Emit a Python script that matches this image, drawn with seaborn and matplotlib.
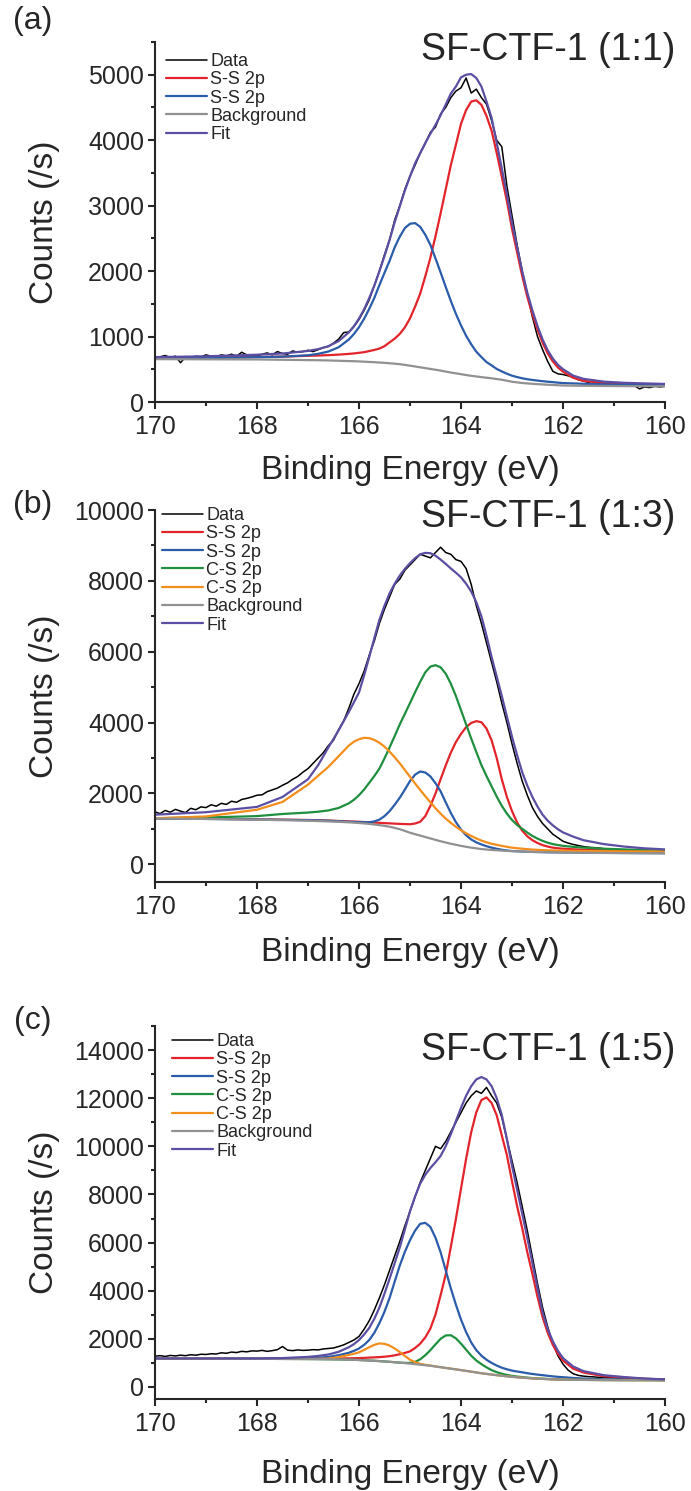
import numpy as np
import matplotlib
matplotlib.use("Agg")
import matplotlib.pyplot as plt
import seaborn as sns
from matplotlib import font_manager as fm
from matplotlib.ticker import MultipleLocator, StrMethodFormatter

# ---------------- data ----------------
# binding-energy grid used for the fitted components (eV)
XC = [170.0, 169.0, 168.0, 167.5, 167.0, 166.8, 166.6, 166.4,
      166.2, 166.1, 166.0, 165.9, 165.8, 165.7, 165.6, 165.5, 165.4, 165.3,
      165.2, 165.1, 165.0, 164.9, 164.8, 164.7, 164.6, 164.5, 164.4, 164.3,
      164.2, 164.1, 164.0, 163.9, 163.8, 163.7, 163.6, 163.5, 163.4, 163.3,
      163.2, 163.1, 163.0, 162.9, 162.8, 162.7, 162.6, 162.5, 162.4, 162.3,
      162.2, 162.1, 162.0, 161.8, 161.6, 161.2, 160.8, 160.4, 160.0]

# ---- panel (a) SF-CTF-1 (1:1)
A_SS1 = [673, 678, 688, 693, 706, 710, 716, 724,
         735, 742, 752, 761, 778, 795, 816, 853, 911, 968,
         1041, 1141, 1278, 1457, 1656, 1921, 2205, 2533, 2881, 3249,
         3616, 3930, 4250, 4460, 4590, 4610, 4540, 4370, 4144, 3806,
         3440, 3070, 2647, 2285, 1926, 1606, 1340, 1106, 905, 744,
         621, 528, 464, 369, 324, 287, 273, 266, 261]
A_SS2 = [668, 672, 685, 693, 714, 736, 771, 836,
         954, 1039, 1143, 1271, 1422, 1589, 1786, 1974, 2158, 2363,
         2527, 2658, 2723, 2733, 2676, 2555, 2399, 2194, 1980, 1759,
         1545, 1347, 1170, 1012, 882, 769, 687, 610, 559, 505,
         467, 432, 402, 381, 362, 348, 337, 327, 318, 310,
         303, 296, 289, 284, 278, 269, 263, 259, 255]
A_BG = [655, 652, 650, 645, 640, 638, 635, 630,
        625, 623, 620, 616, 612, 608, 603, 598, 592, 585,
        578, 567, 555, 543, 530, 518, 505, 493, 480, 465,
        450, 438, 425, 412, 400, 390, 380, 371, 362, 351,
        340, 325, 310, 300, 290, 284, 278, 273, 268, 264,
        260, 256, 252, 250, 248, 245, 243, 241, 240]
A_FIT = [686, 698, 723, 741, 780, 808, 852, 930,
         1064, 1158, 1275, 1416, 1588, 1776, 1999, 2229, 2477, 2746,
         2990, 3232, 3446, 3647, 3802, 3958, 4099, 4234, 4381, 4543,
         4711, 4820, 4960, 5000, 5010, 4950, 4820, 4590, 4341, 3960,
         3567, 3177, 2739, 2366, 1998, 1670, 1399, 1160, 955, 790,
         664, 568, 501, 403, 354, 311, 293, 284, 276]

# ---- panel (b) SF-CTF-1 (1:3)
B_SS1 = [1290, 1285, 1270, 1260, 1250, 1243, 1235, 1222,
         1210, 1205, 1200, 1192, 1185, 1177, 1170, 1162, 1155, 1147,
         1140, 1135, 1130, 1150, 1200, 1360, 1650, 2000, 2400, 2790,
         3150, 3450, 3680, 3870, 3990, 4040, 4010, 3830, 3500, 3000,
         2400, 1900, 1500, 1180, 950, 790, 680, 600, 540, 500,
         470, 452, 440, 423, 410, 395, 385, 380, 375]
B_SS2 = [1290, 1280, 1265, 1255, 1245, 1238, 1230, 1215,
         1200, 1195, 1190, 1185, 1185, 1210, 1260, 1360, 1500, 1680,
         1880, 2110, 2350, 2530, 2620, 2590, 2480, 2290, 2060, 1750,
         1450, 1190, 980, 820, 700, 620, 560, 510, 470, 438,
         410, 390, 375, 367, 360, 355, 350, 346, 343, 340,
         338, 336, 334, 331, 328, 322, 318, 315, 312]
B_CS1 = [1300, 1320, 1360, 1420, 1460, 1485, 1520, 1590,
         1720, 1820, 1950, 2110, 2300, 2490, 2700, 2990, 3300, 3620,
         3950, 4250, 4550, 4860, 5150, 5420, 5580, 5620, 5560, 5380,
         5100, 4750, 4350, 3950, 3550, 3170, 2800, 2490, 2200, 1910,
         1650, 1430, 1250, 1110, 1000, 895, 800, 725, 660, 610,
         570, 543, 520, 492, 470, 440, 420, 400, 380]
B_CS2 = [1300, 1350, 1540, 1760, 2250, 2500, 2750, 3050,
         3350, 3460, 3530, 3570, 3560, 3510, 3430, 3320, 3180, 3020,
         2850, 2660, 2470, 2280, 2100, 1920, 1750, 1580, 1430, 1290,
         1170, 1060, 960, 875, 800, 730, 670, 620, 580, 548,
         520, 493, 470, 453, 440, 427, 415, 407, 400, 395,
         390, 387, 385, 380, 375, 370, 365, 362, 360]
B_BG = [1290, 1280, 1260, 1245, 1230, 1220, 1210, 1198,
        1185, 1175, 1165, 1153, 1140, 1123, 1105, 1085, 1060, 1027,
        990, 942, 890, 850, 810, 770, 730, 690, 650, 615,
        580, 550, 520, 494, 470, 450, 430, 417, 405, 395,
        385, 377, 370, 365, 360, 355, 350, 346, 343, 340,
        337, 334, 332, 329, 326, 320, 316, 313, 310]
B_FIT = [1400, 1470, 1620, 1900, 2400, 2800, 3300, 3780,
         4300, 4570, 4850, 5330, 5850, 6380, 6900, 7300, 7650, 7920,
         8150, 8340, 8500, 8640, 8750, 8790, 8780, 8710, 8600, 8480,
         8350, 8230, 8100, 7920, 7700, 7400, 7000, 6450, 5850, 5300,
         4750, 4170, 3600, 3080, 2600, 2220, 1900, 1630, 1400, 1230,
         1100, 990, 900, 780, 680, 570, 500, 450, 420]

# ---- panel (c) SF-CTF-1 (1:5)
C_SS1 = [1190, 1182, 1176, 1175, 1175, 1177, 1180, 1185,
         1190, 1195, 1200, 1210, 1220, 1230, 1240, 1258, 1280, 1315,
         1360, 1415, 1480, 1620, 1800, 2060, 2430, 3010, 3810, 4674,
         5815, 6980, 8240, 9480, 10585, 11414, 11922, 12032, 11798, 11290,
         10450, 9634, 8550, 7514, 6600, 5600, 4700, 3750, 2900, 2250,
         1750, 1380, 1100, 760, 600, 450, 390, 340, 310]
C_SS2 = [1190, 1183, 1178, 1180, 1190, 1215, 1250, 1320,
         1420, 1500, 1600, 1750, 1950, 2250, 2650, 3130, 3700, 4380,
         5050, 5620, 6100, 6500, 6780, 6820, 6650, 6200, 5600, 4850,
         4100, 3420, 2800, 2280, 1850, 1530, 1300, 1130, 1000, 890,
         800, 735, 680, 642, 610, 573, 540, 513, 490, 464,
         440, 422, 405, 375, 350, 320, 305, 295, 285]
C_CS1 = [1190, 1180, 1170, 1165, 1160, 1156, 1152, 1144,
         1135, 1128, 1120, 1110, 1100, 1088, 1075, 1060, 1045, 1028,
         1012, 1000, 1000, 1040, 1150, 1320, 1530, 1770, 2000, 2140,
         2150, 2020, 1800, 1550, 1300, 1100, 950, 815, 700, 615,
         550, 500, 460, 433, 410, 388, 370, 356, 345, 333,
         322, 314, 308, 300, 295, 288, 285, 282, 280]
C_CS2 = [1190, 1180, 1170, 1166, 1165, 1168, 1180, 1240,
         1330, 1380, 1440, 1540, 1650, 1750, 1810, 1790, 1720, 1600,
         1450, 1290, 1130, 1030, 960, 920, 890, 855, 822, 792,
         762, 732, 702, 669, 637, 604, 572, 544, 517, 492,
         467, 444, 422, 404, 387, 372, 357, 346, 336, 326,
         316, 309, 303, 298, 293, 288, 285, 282, 280]
C_BG = [1190, 1180, 1170, 1165, 1160, 1156, 1152, 1144,
        1135, 1128, 1120, 1110, 1100, 1088, 1075, 1060, 1045, 1028,
        1010, 990, 970, 948, 925, 903, 880, 850, 820, 790,
        760, 730, 700, 667, 635, 602, 570, 542, 515, 490,
        465, 442, 420, 402, 385, 370, 355, 345, 335, 325,
        315, 308, 302, 297, 292, 287, 284, 282, 280]
C_FIT = [1185, 1185, 1185, 1200, 1250, 1290, 1350, 1460,
         1650, 1780, 1950, 2180, 2450, 2830, 3300, 3880, 4500, 5150,
         5800, 6550, 7300, 7920, 8450, 8820, 9100, 9340, 9600, 10000,
         10500, 11050, 11600, 12100, 12500, 12780, 12880, 12780, 12500, 12000,
         11300, 10300, 9200, 8200, 7200, 6200, 5150, 4100, 3100, 2400,
         1900, 1500, 1200, 850, 660, 490, 410, 350, 315]

# measured spectra, 170.0 -> 160.0 eV in 0.1 eV steps
DATA_A = [660, 690, 710, 680, 700, 600, 690, 670, 700, 690,
          720, 700, 690, 720, 705, 730, 700, 760, 720, 710,
          700, 730, 750, 720, 770, 740, 730, 780, 760, 770,
          790, 770, 800, 830, 850, 900, 960, 1060, 1070, 1150,
          1260, 1400, 1560, 1780, 2000, 2250, 2480, 2780, 3000, 3250,
          3450, 3620, 3800, 3950, 4120, 4200, 4400, 4500, 4650, 4750,
          4800, 4950, 4720, 4780, 4650, 4550, 4300, 4000, 3900, 3300,
          2850, 2400, 2000, 1650, 1300, 1000, 800, 620, 470, 430,
          420, 400, 380, 340, 320, 300, 330, 280, 270, 260,
          270, 250, 260, 240, 250, 200, 230, 220, 240, 230,
          240]
DATA_B = [1480, 1430, 1520, 1470, 1550, 1500, 1460, 1580, 1540, 1620,
          1600, 1680, 1640, 1720, 1690, 1780, 1750, 1830, 1860, 1900,
          1950, 1960, 2050, 2100, 2150, 2230, 2300, 2400, 2480, 2600,
          2700, 2850, 3000, 3150, 3350, 3500, 3800, 4050, 4400, 4800,
          5100, 5450, 5900, 6300, 6800, 7200, 7550, 7900, 8050, 8300,
          8450, 8600, 8750, 8700, 8650, 8800, 8950, 8800, 8750, 8600,
          8550, 8350, 7900, 7300, 6800, 6250, 5700, 5150, 4550, 4000,
          3400, 2850, 2350, 1950, 1600, 1350, 1150, 1000, 850, 750,
          650, 600, 560, 530, 500, 480, 470, 460, 440, 430,
          420, 410, 400, 390, 395, 380, 380, 370, 375, 360,
          360]
DATA_C = [1280, 1300, 1270, 1310, 1290, 1320, 1300, 1340, 1320, 1360,
          1350, 1380, 1370, 1420, 1400, 1450, 1430, 1480, 1460, 1500,
          1490, 1520, 1480, 1510, 1550, 1680, 1530, 1510, 1540, 1520,
          1530, 1550, 1540, 1580, 1600, 1620, 1680, 1750, 1850, 1950,
          2100, 2400, 2750, 3200, 3700, 4250, 4850, 5450, 6050, 6700,
          7300, 7900, 8500, 9000, 9500, 10000, 9900, 10200, 10600, 11000,
          11400, 11800, 12100, 12300, 12200, 12450, 12100, 11800, 11200, 10300,
          9400, 8500, 7500, 6500, 5400, 4300, 3300, 2500, 1800, 1300,
          950, 700, 550, 480, 450, 430, 420, 400, 410, 390,
          380, 370, 380, 360, 350, 355, 340, 345, 330, 335,
          320]

TITLES = ["SF-CTF-1 (1:1)", "SF-CTF-1 (1:3)", "SF-CTF-1 (1:5)"]
TAGS = ["(a)", "(b)", "(c)"]

# ---------------- style ----------------
sns.set_style("ticks")
plt.rcParams["font.family"] = ["Liberation Sans", "DejaVu Sans"]
plt.rcParams["axes.linewidth"] = 1.5


def font_ok(name):
    try:
        fm.findfont(fm.FontProperties(family=name), fallback_to_default=False)
        return True
    except Exception:
        return False


if font_ok("Liberation Sans Narrow"):
    TICK_FAMILY, TICK_SIZE = "Liberation Sans Narrow", 21
else:
    TICK_FAMILY, TICK_SIZE = "Liberation Sans", 18

RED, BLUE, GREEN, ORANGE = "#e3242b", "#2a5caa", "#1f8f3f", "#f28e1c"
GRAY, PURPLE = "#919191", "#5a4fa2"

W, H = 691, 1491
fig = plt.figure(figsize=(W / 100, H / 100), dpi=100)

panels = [
    dict(box=(155, 665, 42, 402), ylim=(0, 5500), major=1000, minor=500,
         title_y=50, tag_y=21, leg=(166, 53), xlabel_y=470, data=DATA_A,
         curves=[("S-S 2p", A_SS1, RED), ("S-S 2p", A_SS2, BLUE),
                 ("Background", A_BG, GRAY), ("Fit", A_FIT, PURPLE)]),
    dict(box=(155, 665, 510, 882), ylim=(-500, 10000), major=2000, minor=1000,
         title_y=517, tag_y=505, leg=(162, 507), xlabel_y=953, data=DATA_B,
         curves=[("S-S 2p", B_SS1, RED), ("S-S 2p", B_SS2, BLUE),
                 ("C-S 2p", B_CS1, GREEN), ("C-S 2p", B_CS2, ORANGE),
                 ("Background", B_BG, GRAY), ("Fit", B_FIT, PURPLE)]),
    dict(box=(155, 665, 1026, 1399), ylim=(-500, 15000), major=2000, minor=1000,
         title_y=1050, tag_y=1021, leg=(172, 1033), xlabel_y=1474, data=DATA_C,
         curves=[("S-S 2p", C_SS1, RED), ("S-S 2p", C_SS2, BLUE),
                 ("C-S 2p", C_CS1, GREEN), ("C-S 2p", C_CS2, ORANGE),
                 ("Background", C_BG, GRAY), ("Fit", C_FIT, PURPLE)]),
]

for i, p in enumerate(panels):
    l, r, t, b = p["box"]
    ax = fig.add_axes([l / W, 1 - b / H, (r - l) / W, (b - t) / H])
    xd = np.linspace(170, 160, len(p["data"]))
    handles, labels = [], []
    sns.lineplot(x=xd, y=p["data"], ax=ax, color="black", lw=1.1,
                 estimator=None, sort=False, legend=False)
    handles.append(ax.lines[-1]); labels.append("Data")
    for name, vals, col in p["curves"]:
        sns.lineplot(x=XC, y=vals, ax=ax, color=col, lw=1.6,
                     estimator=None, sort=False, legend=False)
        handles.append(ax.lines[-1]); labels.append(name)

    ax.set_xlim(170, 160)
    ax.set_ylim(*p["ylim"])
    ax.xaxis.set_major_locator(MultipleLocator(2))
    ax.xaxis.set_minor_locator(MultipleLocator(1))
    ax.yaxis.set_major_locator(MultipleLocator(p["major"]))
    ax.yaxis.set_minor_locator(MultipleLocator(p["minor"]))
    ax.yaxis.set_major_formatter(StrMethodFormatter("{x:.0f}"))
    ax.xaxis.set_major_formatter(StrMethodFormatter("{x:.0f}"))
    sns.despine(ax=ax)
    ax.tick_params(which="major", direction="out", length=5, width=1.5,
                   labelsize=TICK_SIZE, labelfontfamily=TICK_FAMILY)
    ax.tick_params(which="minor", direction="out", length=3, width=1.5)
    ax.tick_params(axis="x", which="major", pad=4.5)
    ax.tick_params(axis="y", which="major", pad=3)

    ax.set_xlabel("Binding Energy (eV)", fontsize=24)
    ax.xaxis.label.set_va("center")
    ax.xaxis.set_label_coords(0.5, -(p["xlabel_y"] - b) / (b - t))
    ax.set_ylabel("Counts (/s)", fontsize=24)
    ax.yaxis.label.set_va("center")
    ax.yaxis.set_label_coords((45 - l) / (r - l), 0.5)

    lx, ly = p["leg"]
    ax.legend(handles, labels, loc="upper left", bbox_to_anchor=(lx / W, 1 - ly / H),
              bbox_transform=fig.transFigure, frameon=False, fontsize=13,
              handlelength=2.27, handletextpad=0.17, labelspacing=0.07,
              borderpad=0, borderaxespad=0)

    fig.text(675 / W, 1 - p["title_y"] / H, TITLES[i], ha="right", va="center", fontsize=27)
    fig.text(33 / W, 1 - p["tag_y"] / H, TAGS[i], ha="center", va="center", fontsize=23)

fig.savefig("out.png", dpi=100)
